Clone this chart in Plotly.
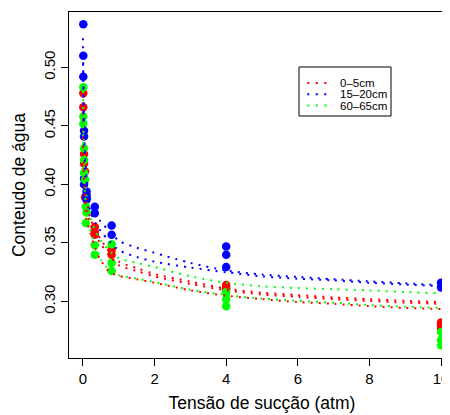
import plotly.graph_objects as go

# ---------------- data ----------------
# observed points (suction in atm, water content)
red_x = [0.01, 0.01, 0.03, 0.03, 0.06, 0.06, 0.33, 0.33, 0.33, 0.8, 0.8, 4, 4, 4, 10, 10, 10]
red_y = [0.478, 0.466, 0.426, 0.418, 0.411, 0.389, 0.3637, 0.3594, 0.357, 0.344, 0.340, 0.314, 0.3115, 0.310, 0.282, 0.280, 0.277]

blue_x = [0.01, 0.01, 0.01, 0.03, 0.03, 0.03, 0.03, 0.1, 0.1, 0.1, 0.1, 0.33, 0.33, 0.8, 0.8, 4, 4, 4, 10, 10]
blue_y = [0.537, 0.510, 0.492, 0.446, 0.441, 0.405, 0.400, 0.394, 0.391, 0.389, 0.387, 0.381, 0.3755, 0.365, 0.357, 0.347, 0.340, 0.3295, 0.316, 0.312]

green_x = [0.01, 0.01, 0.01, 0.03, 0.03, 0.03, 0.06, 0.08, 0.08, 0.1, 0.33, 0.33, 0.8, 0.8, 0.8, 4, 4, 4, 10, 10, 10]
green_y = [0.483, 0.458, 0.452, 0.431, 0.421, 0.410, 0.404, 0.381, 0.367, 0.376, 0.348, 0.340, 0.349, 0.333, 0.326, 0.308, 0.302, 0.296, 0.274, 0.267, 0.2625]

# fitted curves
curve_x = [0, 0.02, 0.05, 0.1, 0.2, 0.35, 0.5, 0.75, 1, 1.5, 2, 3, 4, 5, 6, 7, 8, 9, 10]
blue_fit1 = [0.525, 0.47, 0.43, 0.405, 0.388, 0.376, 0.368, 0.360, 0.352, 0.346, 0.3415, 0.333, 0.3265, 0.323, 0.321, 0.319, 0.3172, 0.3155, 0.314]
blue_fit2 = [0.51, 0.455, 0.42, 0.395, 0.378, 0.367, 0.360, 0.351, 0.344, 0.338, 0.334, 0.329, 0.325, 0.3215, 0.3195, 0.318, 0.316, 0.3145, 0.313]
red_fit1 = [0.47, 0.43, 0.405, 0.388, 0.372, 0.361, 0.353, 0.342, 0.334, 0.3285, 0.3235, 0.317, 0.311, 0.3075, 0.3055, 0.3035, 0.302, 0.3005, 0.2995]
red_fit2 = [0.46, 0.42, 0.398, 0.382, 0.367, 0.357, 0.349, 0.339, 0.331, 0.326, 0.3215, 0.315, 0.3095, 0.306, 0.304, 0.302, 0.3005, 0.299, 0.298]
red_fit3 = [0.44, 0.41, 0.39, 0.37, 0.359, 0.345, 0.335, 0.325, 0.322, 0.319, 0.316, 0.3095, 0.305, 0.302, 0.2995, 0.298, 0.296, 0.2945, 0.2935]
green_fit1 = [0.48, 0.44, 0.41, 0.39, 0.372, 0.360, 0.352, 0.343, 0.337, 0.333, 0.3295, 0.3215, 0.316, 0.313, 0.3115, 0.3105, 0.3095, 0.308, 0.307]
green_fit2 = [0.45, 0.42, 0.395, 0.372, 0.361, 0.347, 0.336, 0.326, 0.3225, 0.3195, 0.3165, 0.310, 0.3055, 0.3025, 0.3005, 0.299, 0.297, 0.2955, 0.2945]

legend_labels = ["0\u20135cm", "15\u201320cm", "60\u201365cm"]
x_ticks = [0, 2, 4, 6, 8, 10]
y_ticks = [0.30, 0.35, 0.40, 0.45, 0.50]
y_tick_text = ["0.30", "0.35", "0.40", "0.45", "0.50"]

RED, BLUE, GREEN = "#FF0000", "#0000FF", "#00FF00"
FONT = "Liberation Sans, Arial, Helvetica, sans-serif"

# ---------------- figure ----------------
W, H = 450, 415
OFF = 8  # page body margin offset of the rendered figure
# wanted plot box on screen: x 69..455, y 12..358
ML, MT = 69 - OFF, 12 - OFF
PW, PH = 386, 346
MR = W - ML - PW
MB = H - MT - PH

fig = go.Figure()

for xs, ys, col in [(red_x, red_y, RED), (blue_x, blue_y, BLUE), (green_x, green_y, GREEN)]:
    fig.add_trace(go.Scatter(x=xs, y=ys, mode="markers",
                             marker=dict(color=col, size=8.5, line=dict(width=0)),
                             showlegend=False, hoverinfo="skip", cliponaxis=False))

for ys, col in [(red_fit1, RED), (red_fit2, RED), (blue_fit1, BLUE), (blue_fit2, BLUE),
                (green_fit1, GREEN), (green_fit2, GREEN), (red_fit3, RED)]:
    fig.add_trace(go.Scatter(x=curve_x, y=ys, mode="lines",
                             line=dict(color=col, width=2, dash="2px,6px", shape="spline", smoothing=0.8),
                             showlegend=False, hoverinfo="skip"))

# manual legend (R style box), positions given in screen pixels
def px2x(p):
    return (p - OFF - ML) / PW

def px2y(p):
    return (MT + PH - (p - OFF)) / PH

fig.add_shape(type="rect", xref="paper", yref="paper",
              x0=px2x(299), x1=px2x(391), y0=px2y(116), y1=px2y(67),
              line=dict(color="black", width=1), fillcolor="white", layer="above")
for i, (lab, col) in enumerate(zip(legend_labels, [RED, BLUE, GREEN])):
    yy = 83 + i * 11.3
    fig.add_shape(type="line", xref="paper", yref="paper",
                  x0=px2x(307.3), x1=px2x(327), y0=px2y(yy), y1=px2y(yy),
                  line=dict(color=col, width=2, dash="2px,6.5px"), layer="above")
    fig.add_annotation(xref="paper", yref="paper", x=px2x(338), y=px2y(yy),
                       xanchor="left", yanchor="middle", text=lab, showarrow=False,
                       font=dict(family=FONT, size=11.5, color="black"))

fig.update_layout(
    width=W, height=H,
    margin=dict(l=ML, r=MR, t=MT, b=MB, pad=0, autoexpand=False),
    paper_bgcolor="white", plot_bgcolor="white",
    font=dict(family=FONT, color="black"),
    showlegend=False,
    xaxis=dict(range=[-0.39, 10.39], tickvals=x_ticks, ticks="outside", ticklen=7,
               tickcolor="black", showline=True, linecolor="black", linewidth=1, mirror=True,
               showgrid=False, zeroline=False, tickfont=dict(size=15, family=FONT),
               automargin=False, ticklabeloverflow="allow", ticklabelstandoff=0,
               title=dict(text="Tensão de sucção (atm)", font=dict(size=17.5, family=FONT), standoff=10)),
    yaxis=dict(range=[0.2517, 0.5474], tickvals=y_ticks, ticktext=y_tick_text, tickangle=-90,
               ticks="outside", ticklen=7, tickcolor="black", showline=True, linecolor="black",
               linewidth=1, showgrid=False, zeroline=False, tickfont=dict(size=15, family=FONT),
               automargin=False,
               title=dict(text="Conteudo de água", font=dict(size=17.5, family=FONT), standoff=10)),
)

fig.write_html("out.html")
